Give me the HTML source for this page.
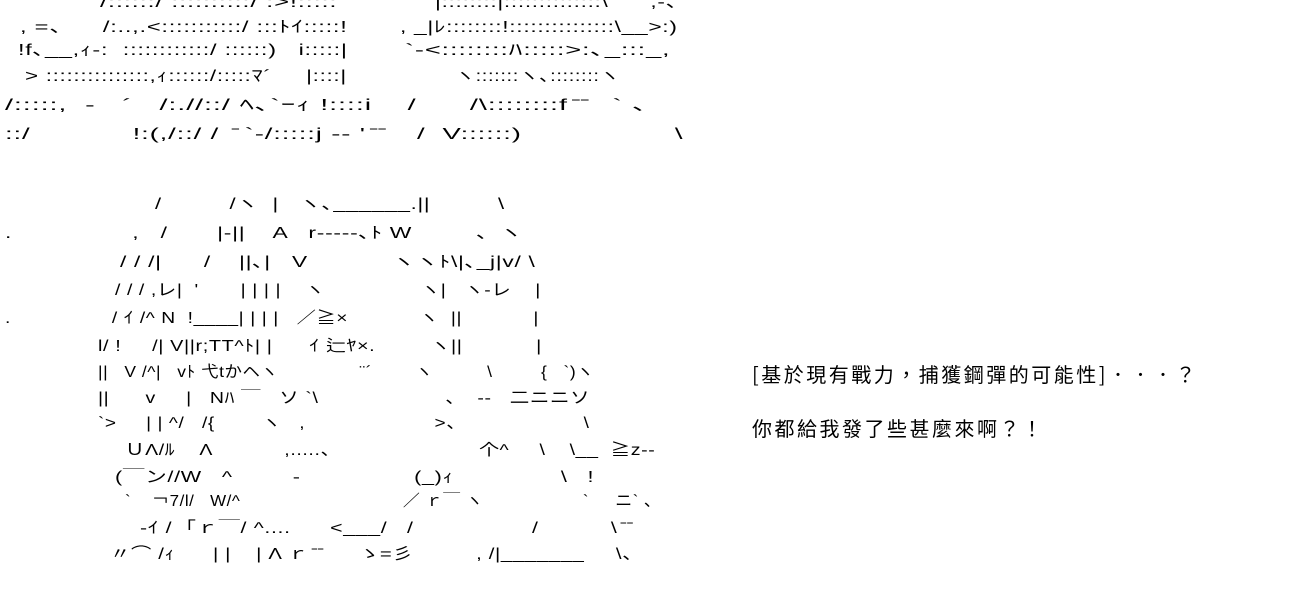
<!DOCTYPE html>
<html><head><meta charset="utf-8"><style>
html,body{margin:0;padding:0;background:#fff;}
body{width:1300px;height:600px;position:relative;overflow:hidden;color:#000;}
.l{position:absolute;white-space:pre;font-size:16px;line-height:18px;font-family:"Liberation Sans","Noto Sans CJK JP",sans-serif;letter-spacing:0.5px;transform-origin:0 0;}
.t{position:absolute;white-space:pre;font-size:20px;line-height:24px;letter-spacing:2.5px;font-family:"WenQuanYi Zen Hei","Noto Sans CJK TC",sans-serif;}
</style></head><body>
<div class="l" style="left:100px;top:-6px;transform:scaleX(1.6)">/::::::/ ::::::::::/ :>!:::::</div>
<div class="l" style="left:435px;top:-6px;transform:scaleX(1.41)">|::::::::|::::::::::::::\      ,-、</div>
<div class="l" style="left:20px;top:19px;transform:scaleX(1.48)">, =、    /:..,.<:::::::::::/ :::ﾄｲ:::::!</div>
<div class="l" style="left:400px;top:19px;transform:scaleX(1.42)">, _|ﾚ::::::::!:::::::::::::::\__>:)</div>
<div class="l" style="left:18px;top:42px;transform:scaleX(1.47)">!f､__,ｨ‐:  ::::::::::::/ ::::::)   i:::::|</div>
<div class="l" style="left:405px;top:42px;transform:scaleX(1.7)">`‐<::::::::ﾊ:::::>:､_:::_,</div>
<div class="l" style="left:25px;top:68px;transform:scaleX(1.4)">&gt; :::::::::::::::,ｨ::::::/:::::ﾏ´     |::::|</div>
<div class="l" style="left:455px;top:68px;transform:scaleX(1.25)">ヽ:::::::ヽ､::::::::ヽ</div>
<div class="l" style="left:5px;top:97px;transform:scaleX(1.8)">/:::::,  ‐   ´   /:.//::/ ﾍ､`ｰｨ !::::i    /      /\::::::::f ̄ ̄   ` 、</div>
<div class="l" style="left:5px;top:126px;transform:scaleX(1.72)">::/            !:(,/::/ /  ̄ `‐/:::::j ‐‐ ' ̄ ̄    /  V::::::)                  \</div>
<div class="l" style="left:155px;top:196px;transform:scaleX(1.37)">/          /ヽ  |   ヽ､______.||          \</div>
<div class="l" style="left:5px;top:225px;transform:scaleX(1.43)">.                 ,   /       |‐||    A   r‐‐‐‐-､ﾄ W         、ヽ</div>
<div class="l" style="left:120px;top:254px;transform:scaleX(1.42)">/ / /|      /    ||､|   V            ヽヽﾄ\|､_j|v/ \</div>
<div class="l" style="left:115px;top:282px;transform:scaleX(1.21)">/ / / ,レ|  '       | | | |    ヽ                ヽ|   ヽ‐レ    |</div>
<div class="l" style="left:5px;top:310px;transform:scaleX(1.2)">.                 / ｲ /^ N  !____| | | |   ／≧×            ヽ  ||            |</div>
<div class="l" style="left:98px;top:338px;transform:scaleX(1.24)">l/ !     /| V||r;TT^ﾄ| |      ｲ 辷ﾔ×.         ヽ||            |</div>
<div class="l" style="left:98px;top:364px;transform:scaleX(1.09)">||   V /^|   vﾄ 弋tかヘヽ               ¨´        ヽ          \         {   `)ヽ</div>
<div class="l" style="left:98px;top:390px;transform:scaleX(1.22)">||      v     |   Nﾊ ￣   ソ `\                     、  ‐‐   二ニニソ</div>
<div class="l" style="left:98px;top:415px;transform:scaleX(1.19)">`>     | | ^/   /{        ヽ   ,                      >、                    \</div>
<div class="l" style="left:125px;top:442px;transform:scaleX(1.22)">ＵΛ/ﾙ    Λ            ,.....、                       个^     \    \__  ≧z‐‐</div>
<div class="l" style="left:115px;top:469px;transform:scaleX(1.35)">(￣ン//W   ^         ‐                 (_)ｨ                \   !</div>
<div class="l" style="left:125px;top:493px;transform:scaleX(1.06)">`    ￢7/l/   W/^                               ／ ｒ￣ ヽ                   `     ニ` ､</div>
<div class="l" style="left:140px;top:520px;transform:scaleX(1.33)">‐ｲ /  ｢ｒ￣/ ^....      <___/   /                  /           \ ̄ ̄</div>
<div class="l" style="left:110px;top:546px;transform:scaleX(1.27)">〃⌒ /ｨ      | |    | Λ ｒ ̄ ̄      ゝ=彡          , /|_______     \、</div>
<div class="t" style="left:752px;top:362px">[基於現有戰力，捕獲鋼彈的可能性]．．．？</div>
<div class="t" style="left:752px;top:416px">你都給我發了些甚麼來啊？！</div>
</body></html>
